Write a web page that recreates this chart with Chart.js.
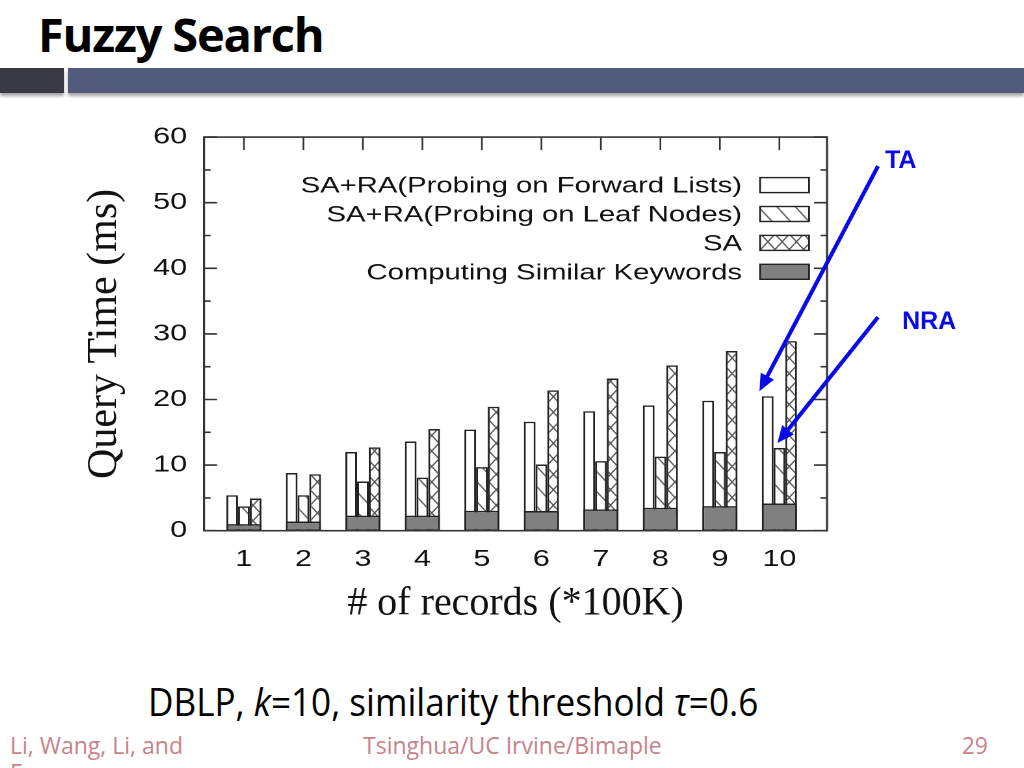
<!DOCTYPE html>
<html lang="en">

<head>
    <meta charset="UTF-8">
    <title>Fuzzy Search</title>
    <script src="https://cdn.jsdelivr.net/npm/chart.js"></script>
    <style>
        body {
            margin: 0;
            width: 1024px;
            height: 768px;
            overflow: hidden;
            position: relative;
            background: #fff;
            font-family: "Open Sans", sans-serif;
        }

        .titulo {
            position: absolute;
            left: 38px;
            top: 11px;
            font-size: 47px;
            line-height: 1;
            font-weight: 700;
            letter-spacing: -1.2px;
            color: #000;
        }

        .faixaEscura {
            position: absolute;
            left: 0;
            top: 68px;
            width: 64px;
            height: 25px;
            background: #393a44;
            box-shadow: 0 3px 3px rgba(0, 0, 0, 0.35);
        }

        .faixa {
            position: absolute;
            left: 68px;
            top: 68px;
            width: 956px;
            height: 25px;
            background: #525b7b;
            box-shadow: 0 3px 3px rgba(0, 0, 0, 0.35);
        }

        #grafico {
            position: absolute;
            left: 60px;
            top: 110px;
        }

        .legenda {
            position: absolute;
            left: 148px;
            top: 681px;
            font-size: 39px;
            line-height: 1;
            color: #000;
            white-space: nowrap;
            transform: scaleX(0.9);
            transform-origin: left top;
        }

        .rodape {
            position: absolute;
            top: 732px;
            font-size: 23px;
            line-height: 27px;
            color: #c7838a;
        }
    </style>
</head>

<body>
    <div class="titulo">Fuzzy Search</div>
    <div class="faixaEscura"></div>
    <div class="faixa"></div>

    <!-- the gnuplot figure is stretched sideways in the slide, so the canvas is too -->
    <canvas id="grafico" width="720" height="530" style="width:936px;height:530px"></canvas>

    <div class="legenda">DBLP, <i>k</i>=10, similarity threshold <i>τ</i>=0.6</div>
    <div class="rodape" style="left:10px;width:200px">Li, Wang, Li, and Feng</div>
    <div class="rodape" style="left:363px">Tsinghua/UC Irvine/Bimaple</div>
    <div class="rodape" style="right:36px">29</div>

    <script>
        // horizontal stretch of the canvas (css width / canvas width)
        const sx = 936 / 720;

        // # of records (*100K)
        const records = [1, 2, 3, 4, 5, 6, 7, 8, 9, 10];
        // query time (ms), top of each bar
        const forwardLists = [5.4, 8.8, 12.0, 13.6, 15.4, 16.6, 18.2, 19.1, 19.8, 20.5];
        const leafNodes = [3.7, 5.4, 7.5, 8.1, 9.7, 10.1, 10.6, 11.3, 12.0, 12.6];
        const saOnly = [4.9, 8.6, 12.7, 15.5, 18.9, 21.4, 23.2, 25.2, 27.4, 28.9];
        const similarKeywords = [1.0, 1.4, 2.3, 2.3, 3.05, 3.0, 3.25, 3.5, 3.75, 4.15];
        const yTicks = [0, 10, 20, 30, 40, 50, 60];
        const seriesNames = [
            'SA+RA(Probing on Forward Lists)',
            'SA+RA(Probing on Leaf Nodes)',
            'SA',
            'Computing Similar Keywords'
        ];

        const tinta = '#222';
        const azul = '#0a0ae6';

        // hatch fill like gnuplot's patterns
        function criarPadrao(w, h, cruzado) {
            const c = document.createElement('canvas');
            c.width = Math.round(w * 2);
            c.height = Math.round(h * 2);
            const g = c.getContext('2d');
            g.scale(c.width / w, c.height / h);
            g.fillStyle = '#fff';
            g.fillRect(0, 0, w, h);
            g.strokeStyle = '#555';
            g.lineWidth = 1.1;
            g.beginPath();
            for (let k = -1; k <= 1; k++) {
                g.moveTo(k * w, 0);
                g.lineTo(k * w + w, h);
                if (cruzado) {
                    g.moveTo(k * w + w, 0);
                    g.lineTo(k * w, h);
                }
            }
            g.stroke();
            const p = g.createPattern(c, 'repeat');
            p.setTransform(new DOMMatrix().scale(w / c.width, h / c.height));
            return p;
        }

        const padraoDiagonal = criarPadrao(14.2, 20, false);
        const padraoCruzado = criarPadrao(11, 15.5, true);
        const preenchimentos = ['#fff', padraoDiagonal, padraoCruzado, '#808080'];

        function pontos(valores) {
            return records.map((x, i) => ({ x: x, y: valores[i] }));
        }

        function seta(ctx, x0, y0, x1, y1) {
            const ang = Math.atan2(y1 - y0, x1 - x0);
            const comp = 17, meia = 7.5;
            const bx = x1 - comp * Math.cos(ang), by = y1 - comp * Math.sin(ang);
            ctx.strokeStyle = azul;
            ctx.fillStyle = azul;
            ctx.lineWidth = 4;
            ctx.beginPath();
            ctx.moveTo(x0, y0);
            ctx.lineTo(bx + 2 * Math.cos(ang), by + 2 * Math.sin(ang));
            ctx.stroke();
            ctx.beginPath();
            ctx.moveTo(x1, y1);
            ctx.lineTo(bx + meia * Math.sin(ang), by - meia * Math.cos(ang));
            ctx.lineTo(bx - meia * Math.sin(ang), by + meia * Math.cos(ang));
            ctx.closePath();
            ctx.fill();
        }

        // frame, inward ticks, key, axis titles and the TA / NRA arrows
        const molduraGnuplot = {
            id: 'molduraGnuplot',
            beforeDatasetsDraw(chart) {
                const { ctx, chartArea: a, scales } = chart;
                ctx.save();
                ctx.strokeStyle = '#333';
                ctx.lineWidth = 1.6;
                ctx.beginPath();
                for (let v = 0; v <= 60; v += 5) {
                    const y = scales.y.getPixelForValue(v);
                    const len = (v % 10 === 0 ? 13 : 6.5) / sx;
                    ctx.moveTo(a.left, y);
                    ctx.lineTo(a.left + len, y);
                    ctx.moveTo(a.right, y);
                    ctx.lineTo(a.right - len, y);
                }
                ctx.stroke();
                ctx.lineWidth = 1.3;
                ctx.beginPath();
                records.forEach(v => {
                    const x = scales.x.getPixelForValue(v);
                    ctx.moveTo(x, a.top);
                    ctx.lineTo(x, a.top + 13);
                });
                ctx.stroke();
                ctx.restore();
            },
            afterDatasetsDraw(chart) {
                const { ctx, chartArea: a } = chart;
                ctx.save();
                ctx.strokeStyle = '#333';
                ctx.lineWidth = 1.6;
                ctx.strokeRect(a.left, a.top, a.right - a.left, a.bottom - a.top);
                ctx.restore();
            },
            afterDraw(chart) {
                const { ctx, chartArea: a, scales } = chart;

                // key, text right aligned with the sample on the right
                ctx.save();
                ctx.font = '22.5px "Liberation Sans", Arial, sans-serif';
                ctx.textAlign = 'right';
                ctx.textBaseline = 'alphabetic';
                seriesNames.forEach((nome, i) => {
                    const cy = a.top + 48 + i * 28.9;
                    ctx.fillStyle = '#111';
                    ctx.fillText(nome, a.right - 65.4, cy + 7.5);
                    ctx.fillStyle = preenchimentos[i];
                    ctx.fillRect(a.right - 51.5, cy - 7.5, 37.7, 15);
                    ctx.strokeStyle = tinta;
                    ctx.lineWidth = 1.4;
                    ctx.strokeRect(a.right - 51.5, cy - 7.5, 37.7, 15);
                });
                ctx.restore();

                // everything below is drawn without the sideways stretch
                ctx.save();
                ctx.scale(1 / sx, 1);
                const X = v => v * sx;

                ctx.fillStyle = '#111';
                ctx.font = '40px "Liberation Serif", "Times New Roman", serif';
                ctx.textAlign = 'center';
                ctx.textBaseline = 'alphabetic';
                ctx.fillText('# of records (*100K)', X((a.left + a.right) / 2), a.bottom + 84);

                ctx.save();
                ctx.translate(X(a.left) - 88, (a.top + a.bottom) / 2);
                ctx.rotate(-Math.PI / 2);
                ctx.font = '42px "Liberation Serif", "Times New Roman", serif';
                ctx.fillText('Query Time (ms)', 0, 0);
                ctx.restore();

                const ultimo = records.length - 1;
                const xUltimo = X(scales.x.getPixelForValue(records[ultimo]));
                seta(ctx, X(a.right) + 51, a.top + 29,
                    xUltimo - 20, scales.y.getPixelForValue(forwardLists[ultimo]) - 5);
                seta(ctx, X(a.right) + 51, a.top + 180,
                    xUltimo - 2, scales.y.getPixelForValue(leafNodes[ultimo]) - 5);

                ctx.fillStyle = azul;
                ctx.font = 'bold 25px "Liberation Sans", Arial, sans-serif';
                ctx.textAlign = 'left';
                ctx.fillText('TA', X(a.right) + 58, a.top + 30.7);
                ctx.fillText('NRA', X(a.right) + 75, a.top + 191.7);
                ctx.restore();
            }
        };

        const fonteEixo = { family: '"Liberation Sans", Arial, sans-serif', size: 23.5 };

        const dados = {
            datasets: [
                {
                    label: seriesNames[0],
                    data: pontos(forwardLists),
                    backgroundColor: preenchimentos[0],
                    borderColor: tinta,
                    borderWidth: 1.5,
                    order: 1
                },
                {
                    label: seriesNames[1],
                    data: pontos(leafNodes),
                    backgroundColor: preenchimentos[1],
                    borderColor: tinta,
                    borderWidth: 1.5,
                    order: 1
                },
                {
                    label: seriesNames[2],
                    data: pontos(saOnly),
                    backgroundColor: preenchimentos[2],
                    borderColor: tinta,
                    borderWidth: 1.5,
                    order: 1
                },
                {
                    // one wide block under each group of three bars
                    label: seriesNames[3],
                    data: pontos(similarKeywords),
                    backgroundColor: preenchimentos[3],
                    borderColor: tinta,
                    borderWidth: 1.5,
                    borderSkipped: false,
                    grouped: false,
                    order: 0
                }
            ]
        };

        const config = {
            type: 'bar',
            data: dados,
            options: {
                responsive: false,
                animation: false,
                devicePixelRatio: 2,
                categoryPercentage: 0.59,
                barPercentage: 1,
                layout: { padding: { top: 23.3, right: 130, left: 0, bottom: 0 } },
                plugins: {
                    legend: { display: false },
                    tooltip: { enabled: false }
                },
                scales: {
                    x: {
                        type: 'linear',
                        offset: false,
                        min: 0.33,
                        max: 10.8,
                        afterBuildTicks: s => { s.ticks = records.map(v => ({ value: v })); },
                        afterFit: s => { s.height = 109.3; },
                        grid: { display: false, drawTicks: false },
                        border: { display: false },
                        ticks: {
                            font: fonteEixo,
                            color: '#111',
                            padding: 14.5,
                            autoSkip: false,
                            maxRotation: 0
                        }
                    },
                    y: {
                        min: 0,
                        max: 60,
                        afterBuildTicks: s => { s.ticks = yTicks.map(v => ({ value: v })); },
                        afterFit: s => { s.width = 110.8; },
                        grid: { display: false, drawTicks: false },
                        border: { display: false },
                        ticks: {
                            font: fonteEixo,
                            color: '#111',
                            padding: 13
                        }
                    }
                }
            },
            plugins: [molduraGnuplot]
        };

        let myChart = new Chart(document.getElementById('grafico'), config);
    </script>
</body>

</html>
